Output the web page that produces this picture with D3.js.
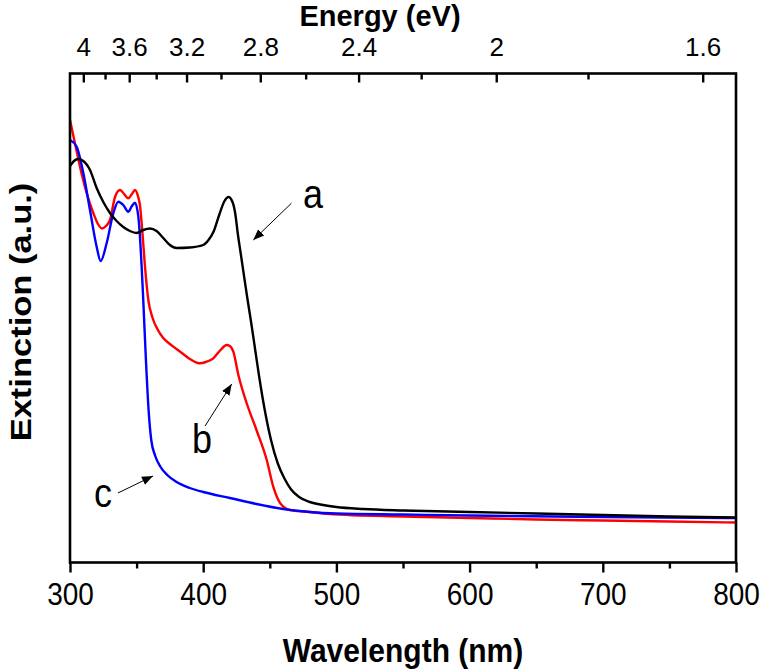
<!DOCTYPE html>
<html>
<head>
<meta charset="utf-8">
<script src="https://cdn.jsdelivr.net/npm/d3@7"></script>
<style>
  html, body { margin: 0; padding: 0; background: #fff; }
  svg { display: block; }
  text { font-family: "Liberation Sans", Arial, sans-serif; }
</style>
</head>
<body>
<script>
// ---- data (wavelength nm, extinction a.u.) ----
const wavelengthA = [300,303,306,310,315,320,325,330,335,340,345,350,355,360,365,370,375,380,390,400,404,408,412,416,419,422,424,426,428,430,433,436,439,442,446,451,456,461,466,472,480,490,500,520,550,600,650,700,750,800];
const extinctionA = [3.965,4.015,4.035,4.015,3.925,3.745,3.605,3.495,3.415,3.355,3.315,3.295,3.325,3.34,3.315,3.245,3.175,3.145,3.15,3.175,3.225,3.315,3.475,3.615,3.655,3.605,3.495,3.285,3.105,2.925,2.655,2.40,2.13,1.86,1.54,1.22,0.99,0.84,0.73,0.655,0.605,0.575,0.555,0.535,0.52,0.505,0.49,0.475,0.46,0.45];

const wavelengthB = [300,304,307.5,312.5,317.5,321,324,327,330,333.8,337.5,340,343.8,346.5,348.8,351,352.5,354.5,356.3,358.8,362,366,370,375,380,385,390,397,402,407.6,413,417.6,420,422.6,426.4,432.6,440,447.7,452.6,457.7,465,477.7,495,550,600,650,700,750,800];
const extinctionB = [4.425,4.175,3.958,3.695,3.495,3.385,3.34,3.365,3.425,3.655,3.725,3.695,3.642,3.685,3.725,3.665,3.575,3.275,2.958,2.625,2.445,2.325,2.245,2.185,2.135,2.085,2.035,1.992,2.005,2.042,2.125,2.175,2.165,2.108,1.875,1.595,1.325,1.025,0.758,0.595,0.525,0.508,0.485,0.46,0.445,0.43,0.42,0.41,0.40];

const wavelengthC = [300,305,310,315,320,323,327.5,332.5,336.3,340,343.8,346.5,348.8,351.3,353.8,355,357,359,361,364,368,373,380,390,400,420,440,460,480,500,550,600,700,800];
const extinctionC = [4.225,4.158,3.895,3.525,3.158,3.015,3.192,3.492,3.608,3.575,3.508,3.565,3.598,3.458,2.958,2.625,2.025,1.525,1.225,1.065,0.955,0.875,0.805,0.745,0.705,0.645,0.585,0.535,0.505,0.49,0.48,0.47,0.455,0.445];

const seriesNames = ["a","b","c"];
const seriesColors = ["#000000","#ff0000","#0000ff"];

const xTicksMajor = [300,400,500,600,700,800];
const xTicksMinor = [350,450,550,650,750];
const energyMajor = [4.0,3.6,3.2,2.8,2.4,2.0,1.6];
const energyMinor = [3.8,3.4,3.0,2.6,2.2,1.8];
const energyLabels = ["4","3.6","3.2","2.8","2.4","2","1.6"];

// annotations: [label, textWavelength, textValue, arrowFromWl, arrowFromVal, arrowToWl, arrowToVal]
const annotations = [
  ["a", 482.4, 3.545, 466.2, 3.592, 437.6, 3.225],
  ["b", 399.1, 1.095, 401.4, 1.365, 421.4, 1.785],
  ["c", 324.8, 0.555, 336.0, 0.695, 362.3, 0.865]
];

// ---- layout ----
const W = 762, H = 670;
const plot = {left: 70, right: 736, top: 73.5, bottom: 562.5};
const stretch = 1.15; // reference glyphs are taller than wide

const svg = d3.select("body").append("svg").attr("width", W).attr("height", H);

const x = d3.scaleLinear().domain([300, 800]).range([plot.left, plot.right]);
const y = d3.scaleLinear().domain([0, 4.89]).range([plot.bottom, plot.top]);

const defs = svg.append("defs");
defs.append("marker").attr("id","arrow").attr("viewBox","0 0 10 10")
  .attr("refX",10).attr("refY",5).attr("markerWidth",11).attr("markerHeight",11)
  .attr("markerUnits","userSpaceOnUse").attr("orient","auto")
  .append("path").attr("d","M0,1 L10,5 L0,9 Z").attr("fill","#000");

defs.append("clipPath").attr("id","clip").append("rect")
  .attr("x", plot.left).attr("y", plot.top)
  .attr("width", plot.right - plot.left).attr("height", plot.bottom - plot.top);

// ---- curves ----
const line = d3.line().x(d => x(d[0])).y(d => y(d[1])).curve(d3.curveMonotoneX);
const seriesData = [
  d3.zip(wavelengthB, extinctionB),
  d3.zip(wavelengthC, extinctionC),
  d3.zip(wavelengthA, extinctionA)
];
const seriesColorOrder = [seriesColors[1], seriesColors[2], seriesColors[0]];
svg.append("g").attr("clip-path","url(#clip)")
  .selectAll("path").data(seriesData).join("path")
  .attr("d", line)
  .attr("fill","none")
  .attr("stroke",(d,i)=>seriesColorOrder[i])
  .attr("stroke-width",2.4)
  .attr("stroke-linejoin","round");

// ---- bottom axis ----
const fmt = d3.format("d");
const gB = svg.append("g").attr("transform",`translate(0,${plot.bottom})`);
gB.call(d3.axisBottom(x).tickValues(xTicksMajor).tickSize(10).tickFormat(fmt));
gB.append("g").call(d3.axisBottom(x).tickValues(xTicksMinor).tickSize(6).tickFormat(""));
gB.selectAll(".domain").remove();
gB.selectAll("line").attr("stroke","#000").attr("stroke-width",2.4);
gB.selectAll("text").attr("y",0).attr("dy",null)
  .attr("transform",`translate(0,42.5) scale(1,${stretch})`)
  .style("font-size","28px").attr("fill","#000");

// ---- top energy axis ----
const gT = svg.append("g").attr("transform",`translate(0,${plot.top})`);
gT.call(d3.axisTop(x).tickValues(energyMajor.map(e=>1240/e)).tickSize(-9)
  .tickFormat((d,i)=>energyLabels[i]));
gT.append("g").call(d3.axisTop(x).tickValues(energyMinor.map(e=>1240/e)).tickSize(-6).tickFormat(""));
gT.selectAll(".domain").remove();
gT.selectAll("line").attr("stroke","#000").attr("stroke-width",2.4);
gT.selectAll("text").attr("y",-18).attr("dy",null)
  .style("font-size","26px").attr("fill","#000");

// ---- frame ----
svg.append("rect").attr("x",plot.left).attr("y",plot.top)
  .attr("width",plot.right-plot.left).attr("height",plot.bottom-plot.top)
  .attr("fill","none").attr("stroke","#000").attr("stroke-width",2.6);

// ---- titles ----
svg.append("text").attr("transform","translate(380,25.5)").attr("text-anchor","middle")
  .style("font-size","29px").style("font-weight","bold").text("Energy (eV)");
svg.append("text").attr("transform",`translate(403,662) scale(1,1.08)`).attr("text-anchor","middle")
  .style("font-size","30px").style("font-weight","bold").text("Wavelength (nm)");
svg.append("text").attr("transform",`translate(31,312) rotate(-90) scale(${stretch},1)`).attr("text-anchor","middle")
  .style("font-size","30px").style("font-weight","bold").text("Extinction (a.u.)");

// ---- annotations ----
const gA = svg.append("g");
annotations.forEach(a => {
  gA.append("line")
    .attr("x1", x(a[3])).attr("y1", y(a[4]))
    .attr("x2", x(a[5])).attr("y2", y(a[6]))
    .attr("stroke","#000").attr("stroke-width",1)
    .attr("marker-end","url(#arrow)");
  gA.append("text")
    .attr("transform", `translate(${x(a[1])},${y(a[2])}) scale(1,${stretch})`)
    .attr("text-anchor","middle").style("font-size","36px").text(a[0]);
});
</script>
</body>
</html>
